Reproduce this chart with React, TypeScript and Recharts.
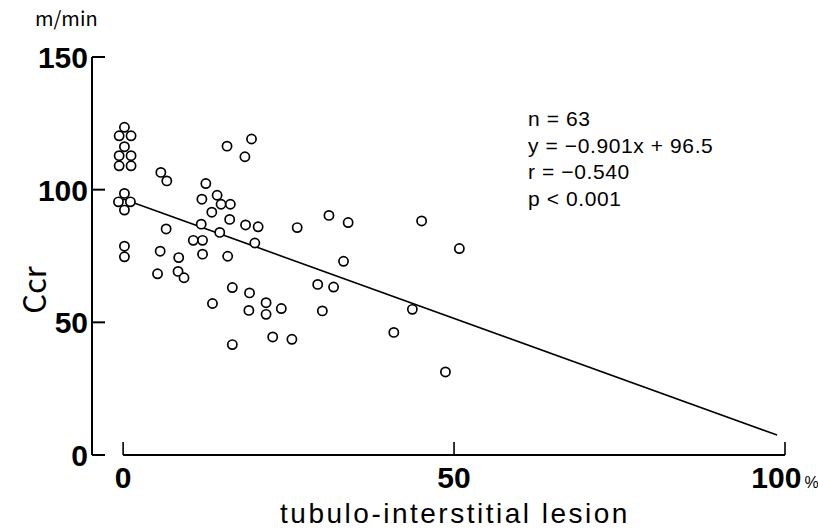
import { ScatterChart, Scatter, XAxis, YAxis, ReferenceLine } from 'recharts'

// tubulo-interstitial lesion (%) and Ccr (ml/min), one entry per patient
const lesion = [
  0.2, -0.6, 1.2, 0.2, -0.6, 1.2, -0.6, 1.2, 0.2, -0.7, 1.1, 0.2, 0.2, 0.2,
  5.7, 6.6, 15.7, 19.4, 18.4, 12.5, 11.9, 14.2, 14.8, 16.2, 13.4, 16.1, 11.8,
  14.6, 10.6, 12.0, 12.0, 15.8, 18.5, 20.4, 19.9, 6.5, 5.6, 8.4, 5.2, 8.3, 9.2,
  26.3, 31.1, 34.0, 33.3, 16.5, 19.1, 13.5, 21.6, 19.0, 21.6, 23.9, 29.4, 31.8,
  30.1, 22.6, 25.5, 16.5, 45.1, 50.8, 43.7, 40.9, 48.7,
]
const ccr = [
  123.5, 120.3, 120.3, 116.2, 112.8, 112.8, 109.0, 109.0, 98.6, 95.4, 95.4, 92.3, 78.7, 74.7,
  106.5, 103.3, 116.4, 119.1, 112.4, 102.3, 96.4, 97.9, 94.5, 94.5, 91.5, 88.8, 87.0,
  83.9, 80.9, 80.9, 75.7, 74.9, 86.7, 86.0, 79.9, 85.2, 76.8, 74.4, 68.3, 69.2, 66.8,
  85.7, 90.3, 87.6, 73.0, 63.1, 61.1, 57.1, 57.4, 54.5, 53.0, 55.2, 64.3, 63.3,
  54.3, 44.5, 43.6, 41.6, 88.2, 77.8, 54.9, 46.2, 31.3,
]
// regression line y = -0.901x + 96.5, end points as drawn
const fitLine = [
  { x: 0, y: 96.5 },
  { x: 98.8, y: 7.5 },
]
const xTicks = [0, 50, 100]
const yTicks = [0, 50, 100, 150]
const stats = ['n = 63', 'y = −0.901x + 96.5', 'r = −0.540', 'p < 0.001']

const points = lesion.map((x, i) => ({ x, y: ccr[i] }))

const jp = "'Noto Sans CJK JP', 'Noto Sans', sans-serif"
const sans = "'Liberation Sans', Arial, sans-serif"
const digits = "'Liberation Sans Narrow', 'Liberation Sans', sans-serif"

function YTick({ x, y, payload }: any) {
  return (
    <g>
      <line x1={x} y1={y} x2={x + 13} y2={y} stroke="#000" strokeWidth={2} />
      <text x={x - 4} y={y + 11} textAnchor="end" fontSize={30} fontWeight="bold" fontFamily={digits} fill="#000">
        {payload.value}
      </text>
    </g>
  )
}

function XTick({ x, y, payload }: any) {
  return (
    <g>
      <line x1={x} y1={y} x2={x} y2={y - 13} stroke="#000" strokeWidth={1.6} />
      <text x={x} y={y + 33} textAnchor="middle" fontSize={30} fontWeight="bold" fontFamily={digits} fill="#000">
        {payload.value}
        {payload.value === 100 && (
          <tspan fontSize={16} fontWeight="normal" dx={3} fontFamily={sans}>%</tspan>
        )}
      </text>
    </g>
  )
}

function Ring({ cx, cy }: any) {
  return <circle cx={cx} cy={cy} r={4.6} fill="#fff" stroke="#000" strokeWidth={1.7} />
}

export default function App() {
  return (
    <div style={{ position: 'absolute', left: 0, top: 0, width: 818, height: 530, background: '#fff' }}>
      <ScatterChart width={818} height={530} margin={{ top: 57, right: 33, bottom: 45, left: 32 }}>
        <XAxis
          type="number" dataKey="x" domain={[-4.7, 100]} ticks={xTicks}
          height={30} axisLine={false} tickLine={false} tickSize={0} tickMargin={0}
          tick={<XTick />} interval={0} allowDataOverflow
        />
        <YAxis
          type="number" dataKey="y" domain={[0, 150]} ticks={yTicks}
          width={60} axisLine={{ stroke: '#000', strokeWidth: 2 }} tickLine={false}
          tickSize={0} tickMargin={0} tick={<YTick />} interval={0} allowDataOverflow
        />
        <ReferenceLine
          segment={[{ x: 0, y: 0 }, { x: 100, y: 0 }]}
          stroke="#000" strokeWidth={2}
        />
        <Scatter
          data={fitLine} line={{ stroke: '#000', strokeWidth: 1.6 }}
          shape={() => <g />} isAnimationActive={false} legendType="none"
        />
        <Scatter data={points} shape={<Ring />} isAnimationActive={false} legendType="none" />
      </ScatterChart>
      <svg
        width={818} height={530}
        style={{ position: 'absolute', left: 0, top: 0, pointerEvents: 'none' }}
      >
        <text x={35} y={26} fontSize={20} fontFamily={jp}>m/min</text>
        <text
          x={46} y={290} fontSize={31} fontFamily={jp} textAnchor="middle"
          transform="rotate(-90 46 290)"
        >
          Ccr
        </text>
        <text x={455} y={523} fontSize={28} fontFamily={sans} textAnchor="middle" letterSpacing={2.5}>
          tubulo-interstitial lesion
        </text>
        {stats.map((s, i) => (
          <text key={s} x={528} y={126 + i * 26.5} fontSize={21} fontFamily={sans} letterSpacing={0.6}>
            {s}
          </text>
        ))}
      </svg>
    </div>
  )
}
